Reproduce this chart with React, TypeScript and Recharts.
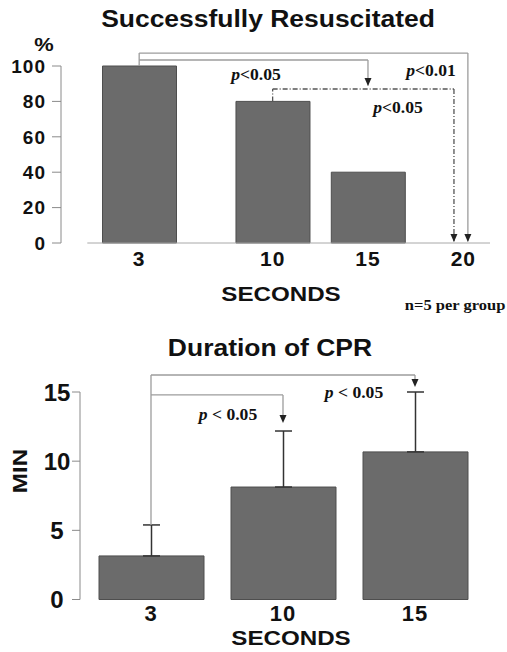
import React from 'react';
import {
  BarChart, Bar, XAxis, YAxis, ReferenceLine, ReferenceDot, ErrorBar,
} from 'recharts';

// Top panel: % successfully resuscitated, n=5 per group
const resusSeconds = [3, 10, 15, 20];
const resusPct = [100, 80, 40, 0];
const pctTicks = [0, 20, 40, 60, 80, 100];

// Bottom panel: duration of CPR (min), mean + SD
const cprSeconds = ['3', '10', '15'];
const cprMin = [3.15, 8.13, 10.67];
const cprSd = [2.24, 4.05, 4.33];
const minTicks = [0, 5, 10, 15];

// significance brackets, in data units [x1, y1, x2, y2]
const topSolid: [number, number, number, number][] = [
  [3, 100, 3, 107.3],
  [3, 107.3, 20.24, 107.3],
  [20.24, 107.3, 20.24, 1],
  [3, 103.4, 15, 103.4],
  [15, 103.4, 15, 89],
];
const topDashDot: [number, number, number, number][] = [
  [10, 80, 10, 87],
  [10, 87, 19.51, 87],
  [19.51, 87, 19.51, 1],
];
const topArrows: [number, number][] = [[15, 88.7], [19.51, 0.6], [20.24, 0.6]];

const botSolid: [string, number, string, number][] = [
  ['3', 5.39, '3', 16.23],
  ['3', 16.23, '15', 16.23],
  ['15', 16.23, '15', 15.6],
  ['3', 14.79, '10', 14.79],
  ['10', 14.79, '10', 13],
];
const botArrows: [string, number][] = [['10', 12.76], ['15', 15.37]];

const resusData = resusSeconds.map((s, i) => ({ sec: s, pct: resusPct[i] }));
const cprData = cprSeconds.map((s, i) => ({ sec: s, min: cprMin[i], err: [0, cprSd[i]] }));

const SANS = '"Liberation Sans", Arial, Helvetica, sans-serif';
const SERIF = '"Liberation Serif", "Times New Roman", serif';
const BAR_FILL = '#6b6b6b';
const BAR_STROKE = '#4e4e4e';
const LINE = '#9c9c9c';

const Arrow = (props: any) => {
  const { cx, cy } = props;
  if (cx == null || cy == null) return null;
  return <path d={`M${cx - 3.5},${cy - 8} L${cx + 3.5},${cy - 8} L${cx},${cy} Z`} fill="#222" />;
};

const Lbl = ({ x, y, size, serif, rotate, right, children }: any) => (
  <div style={{
    position: 'absolute',
    left: right ? undefined : x,
    right: right,
    top: y,
    transform: `${right ? 'translateY(-50%)' : 'translate(-50%, -50%)'} ${rotate ? 'rotate(-90deg)' : ''} scaleX(${serif ? 1.1 : 1.15})`,
    transformOrigin: right ? 'right center' : 'center',
    fontFamily: serif ? SERIF : SANS,
    fontWeight: 700,
    fontSize: size,
    lineHeight: 1,
    whiteSpace: 'nowrap',
    color: '#111',
  }}>{children}</div>
);

const PVal = ({ x, y, spaced }: any) => (
  <Lbl x={x} y={y} size={16} serif>
    <i>p</i>{spaced ? ' < 0.05' : '<0.05'}
  </Lbl>
);

const BottomYTick = ({ x, y, payload }: any) => (
  <text x={x - 13} y={y} textAnchor="middle" dominantBaseline="central"
    fontFamily={SANS} fontWeight={700} fontSize={24} fill="#111">
    {payload.value}
  </text>
);

export default function App() {
  return (
    <div style={{ position: 'absolute', left: 0, top: 0, width: 507, height: 652, background: '#fff', overflow: 'hidden' }}>
      <Lbl x={268} y={19} size={23}>Successfully Resuscitated</Lbl>
      <Lbl x={44} y={44} size={19}>%</Lbl>

      <div style={{ position: 'absolute', left: 0, top: 0 }}>
        <BarChart width={507} height={280} data={resusData} margin={{ top: 66, right: 17, left: 0, bottom: 7 }}>
          <XAxis
            dataKey="sec" type="number" domain={[-1.1, 21.4]} allowDataOverflow
            ticks={resusSeconds} axisLine={false} tickLine={false} tickSize={8} tickMargin={0} height={30}
            tick={{ fill: '#111', fontSize: 21, fontWeight: 700, fontFamily: SANS, letterSpacing: 1 }}
          />
          <YAxis
            domain={[0, 100]} ticks={pctTicks} width={61} tickSize={9} tickMargin={6}
            axisLine={{ stroke: '#8a8a8a' }} tickLine={{ stroke: '#8a8a8a' }}
            tick={{ fill: '#111', fontSize: 19, fontWeight: 700, fontFamily: SANS, letterSpacing: 1 }}
          />
          <ReferenceLine segment={[{ x: 0.28, y: 0 }, { x: 21.4, y: 0 }]} stroke="#a8a8a8" ifOverflow="visible" />
          <Bar dataKey="pct" barSize={74} fill={BAR_FILL} stroke={BAR_STROKE} strokeWidth={1} isAnimationActive={false} />
          {topSolid.map((s, i) => (
            <ReferenceLine key={`ts${i}`} segment={[{ x: s[0], y: s[1] }, { x: s[2], y: s[3] }]}
              stroke={LINE} strokeWidth={1.3} ifOverflow="visible" />
          ))}
          {topDashDot.map((s, i) => (
            <ReferenceLine key={`td${i}`} segment={[{ x: s[0], y: s[1] }, { x: s[2], y: s[3] }]}
              stroke="#555" strokeWidth={1.3} strokeDasharray="5 2 1 2" ifOverflow="visible" />
          ))}
          {topArrows.map((a, i) => (
            <ReferenceDot key={`ta${i}`} x={a[0]} y={a[1]} r={4} ifOverflow="visible" shape={<Arrow />} />
          ))}
        </BarChart>
      </div>

      <PVal x={256} y={75} />
      <Lbl x={431} y={71} size={16} serif><i>p</i>{'<0.01'}</Lbl>
      <PVal x={398} y={108} />

      <Lbl x={281} y={293} size={21}>SECONDS</Lbl>
      <Lbl right={2} y={305} size={15} serif>n=5 per group</Lbl>

      <Lbl x={270} y={348} size={23}>Duration of CPR</Lbl>
      <Lbl x={19} y={471} size={21} rotate>MIN</Lbl>

      <div style={{ position: 'absolute', left: 0, top: 330 }}>
        <BarChart width={507} height={322} data={cprData} margin={{ top: 62, right: 26, left: 0, bottom: 22.5 }}>
          <XAxis
            dataKey="sec" padding={{ left: 5, right: 0 }} axisLine={false} tickLine={false}
            tickSize={6} tickMargin={0} height={30}
            tick={{ fill: '#111', fontSize: 22, fontWeight: 700, fontFamily: SANS, letterSpacing: 1 }}
          />
          <YAxis
            domain={[0, 15]} ticks={minTicks} width={80} tickSize={8} tickMargin={2}
            axisLine={{ stroke: '#8a8a8a' }} tickLine={{ stroke: '#8a8a8a' }} tick={<BottomYTick />}
          />
          <Bar dataKey="min" barSize={105} fill={BAR_FILL} stroke={BAR_STROKE} strokeWidth={1} isAnimationActive={false}>
            <ErrorBar dataKey="err" direction="y" width={8.5} stroke="#333" strokeWidth={1.5} isAnimationActive={false} />
          </Bar>
          {botSolid.map((s, i) => (
            <ReferenceLine key={`bs${i}`} segment={[{ x: s[0], y: s[1] }, { x: s[2], y: s[3] }]}
              stroke={LINE} strokeWidth={1.3} ifOverflow="visible" />
          ))}
          {botArrows.map((a, i) => (
            <ReferenceDot key={`ba${i}`} x={a[0]} y={a[1]} r={4} ifOverflow="visible" shape={<Arrow />} />
          ))}
        </BarChart>
      </div>

      <PVal x={228} y={415} spaced />
      <PVal x={354} y={393} spaced />

      <Lbl x={291} y={637} size={21}>SECONDS</Lbl>
    </div>
  );
}
